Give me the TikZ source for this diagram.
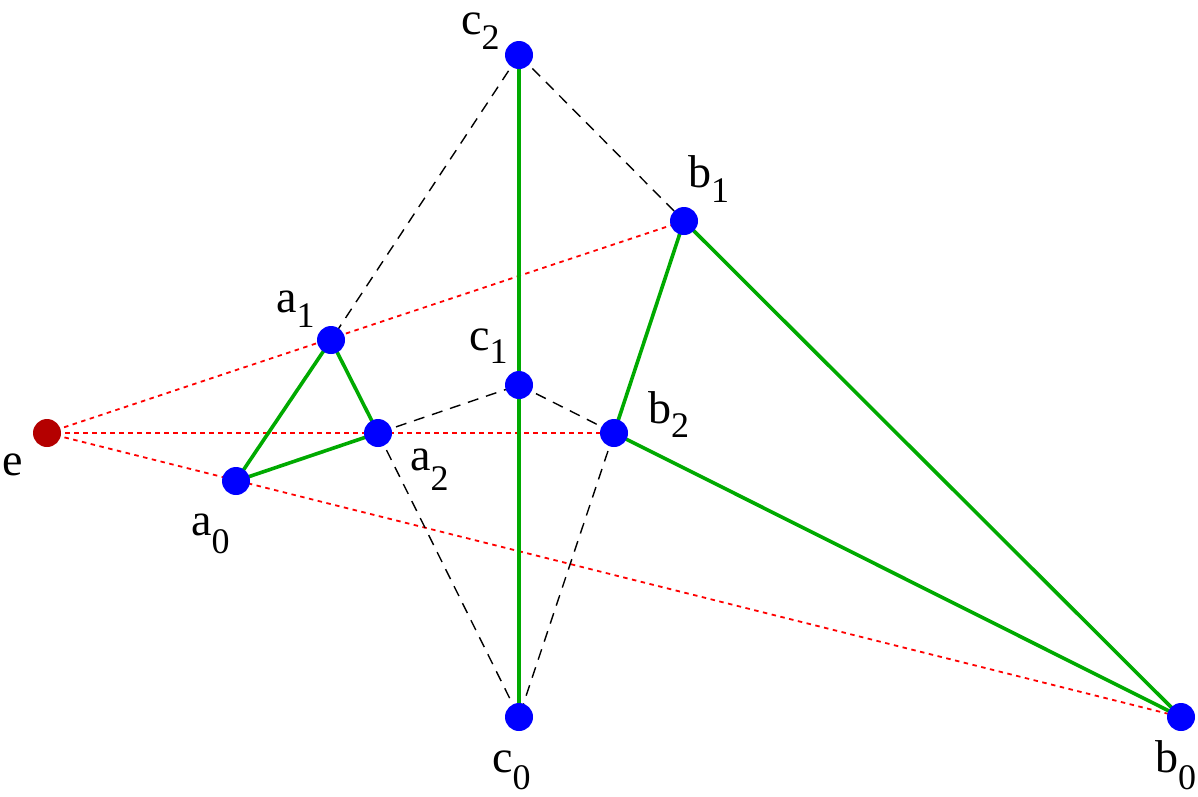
\documentclass[tikz,border=0pt]{standalone}
\usepackage{fontspec}
\setmainfont{Liberation Serif}
\newcommand{\lab}[3]{\fontsize{46}{50}\selectfont #1\raisebox{-#3pt}{\fontsize{36}{40}\selectfont #2}}
\begin{document}
\begin{tikzpicture}[x=1pt,y=-1pt,
  pt/.style={circle,fill=blue,inner sep=0pt,minimum size=28pt},
  ept/.style={circle,fill={rgb,255:red,180;green,0;blue,0},inner sep=0pt,minimum size=28pt},
  grn/.style={draw={rgb,255:red,0;green,170;blue,0},line width=3.6pt},
  dsh/.style={draw=black,line width=1.4pt,dash pattern=on 11pt off 8pt},
  dot/.style={draw=red,line width=1.8pt,dash pattern=on 4.5pt off 4.5pt},
  lbl/.style={inner sep=0pt,anchor=base west}]
\useasboundingbox (0,0) rectangle (1198,796);
\coordinate (e) at (47,433);
\coordinate (a1) at (331,340);
\coordinate (a2) at (378,433);
\coordinate (a0) at (236,481);
\coordinate (c2) at (519,55);
\coordinate (c1) at (519,385);
\coordinate (c0) at (519,717);
\coordinate (b1) at (684,221);
\coordinate (b2) at (614,433);
\coordinate (b0) at (1181,717);
% dotted red
\draw[dot] (e) -- (b1);
\draw[dot] (e) -- (b2);
\draw[dot] (e) -- (b0);
% dashed black
\draw[dsh] (c2) -- (a1);
\draw[dsh] (c2) -- (b1);
\draw[dsh] (a2) -- (c1);
\draw[dsh] (c1) -- (b2);
\draw[dsh] (a2) -- (c0);
\draw[dsh] (b2) -- (c0);
% green
\draw[grn] (a0) -- (a1) -- (a2) -- cycle;
\draw[grn] (c2) -- (c0);
\draw[grn] (b1) -- (b2) -- (b0) -- cycle;
% points
\node[ept] (ne) at (e) {};
\foreach \p in {a0,a1,a2,b0,b1,b2,c0,c1,c2} \node[pt] (n\p) at (\p) {};
% labels
\node[lbl] (le) at (2,475) {\lab{e}{}{0}};
\node[lbl] (la1) at (276,312) {\lab{a}{1}{15}};
\node[lbl] (la2) at (410,470) {\lab{a}{2}{20}};
\node[lbl] (la0) at (191,535) {\lab{a}{0}{18}};
\node[lbl] (lc2) at (461,34) {\lab{c}{2}{15}};
\node[lbl] (lc1) at (469,350) {\lab{c}{1}{13}};
\node[lbl] (lc0) at (492,772) {\lab{c}{0}{17}};
\node[lbl] (lb1) at (688,187) {\lab{b}{1}{15}};
\node[lbl] (lb2) at (648,423) {\lab{b}{2}{14}};
\node[lbl] (lb0) at (1155,772) {\lab{b}{0}{17}};
\end{tikzpicture}
\end{document}
